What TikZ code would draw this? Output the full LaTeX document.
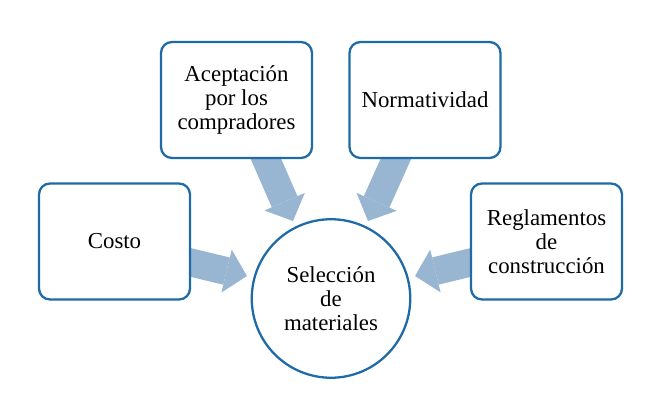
\documentclass[tikz,border=0pt]{standalone}
\usepackage{fontspec}
\setmainfont{Liberation Serif}
\usetikzlibrary{arrows.meta,backgrounds}

\definecolor{boxblue}{RGB}{31,107,168}
\definecolor{arrowblue}{RGB}{152,181,210}

\tikzstyle{box} = [rectangle, rounded corners=0.22cm, minimum width=3.02cm, minimum height=2.32cm, text centered, align=center, draw=boxblue, line width=1.3pt, fill=white, font=\fontsize{13}{13.5}\selectfont]
\tikzstyle{hub} = [circle, minimum size=3.17cm, text centered, align=center, draw=boxblue, line width=1.3pt, fill=white, font=\fontsize{13}{13.5}\selectfont]
\tikzstyle{bigarrow} = [draw=arrowblue, line width=0.56cm, -{Triangle[width=0.88cm, length=0.42cm, line width=0pt]}, preaction={draw=arrowblue, -, shorten >=0.3cm}]

\begin{document}
\begin{tikzpicture}[node distance=3.97cm]
\useasboundingbox (0,0) rectangle (13,8.18);
\node (sel) [hub] at (6.62,2.21) {Selección\\de\\materiales};
\node (acep) [box, above of=sel, xshift=-1.89cm] {Aceptación\\por los\\compradores};
\node (norm) [box, above of=sel, xshift=1.88cm] {Normatividad};
\node (costo) [box, left of=sel, node distance=4.33cm, yshift=1.14cm] {Costo};
\node (regl) [box, right of=sel, node distance=4.31cm, yshift=1.14cm] {Reglamentos\\de\\construcción};

% arrows behind the boxes
\begin{scope}[on background layer]
\draw [bigarrow] ([shift={(0.46,0.3)}]acep.south) -- ([shift={(-0.76,1.55)}]sel.center);
\draw [bigarrow] ([shift={(-0.45,0.3)}]norm.south) -- ([shift={(0.74,1.55)}]sel.center);
\draw [bigarrow] ([shift={(-0.3,-0.35)}]costo.east) -- ([shift={(-1.68,0.45)}]sel.center);
\draw [bigarrow] ([shift={(0.3,-0.35)}]regl.west) -- ([shift={(1.68,0.45)}]sel.center);
\end{scope}

\end{tikzpicture}
\end{document}
